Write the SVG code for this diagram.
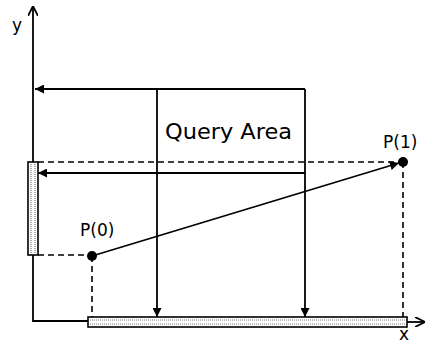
<svg xmlns="http://www.w3.org/2000/svg" width="427" height="347" viewBox="0 0 427 347">
<defs>
<style>
.ln{stroke:#000;stroke-width:1.8;fill:none}
.dash{stroke:#000;stroke-width:1.6;fill:none;stroke-dasharray:6,4}
.bar{fill:#fff;stroke:#000;stroke-width:1.6}
.dots{stroke:#777;stroke-width:1.2;stroke-dasharray:1,1;fill:none}
.t{font-family:"DejaVu Sans","Liberation Sans",Arial,sans-serif;fill:#000}
</style>
<marker id="fa" viewBox="0 0 10 10" refX="10" refY="5" markerWidth="11" markerHeight="9" markerUnits="userSpaceOnUse" orient="auto">
<path d="M0,0 L10,5 L0,10 z" fill="#000"/>
</marker>
<marker id="oa" viewBox="0 0 10 10" refX="10" refY="5" markerWidth="10" markerHeight="10" markerUnits="userSpaceOnUse" orient="auto">
<path d="M0,0 L10,5 L0,10" fill="none" stroke="#000" stroke-width="1.8"/>
</marker>
</defs>
<rect width="427" height="347" fill="#fff"/>
<g id="axes">
<path class="ln" d="M33,320 L33,6" marker-end="url(#oa)"/>
<path class="ln" d="M33,320 L33,321 L88,321"/>
<path class="ln" d="M407,322 L425,322" marker-end="url(#oa)"/>
<text class="t" x="12" y="31" font-size="17">y</text>
<text class="t" x="399" y="340" font-size="17">x</text>
</g>
<g id="y-bar">
<rect class="bar" x="28" y="162" width="10" height="93"/>
<line class="dots" x1="31" y1="164" x2="31" y2="253"/>
<line class="dots" x1="35" y1="164" x2="35" y2="253"/>
</g>
<g id="x-bar">
<rect class="bar" x="88" y="317" width="319" height="10"/>
<line class="dots" x1="90" y1="320" x2="405" y2="320"/>
<line class="dots" x1="90" y1="324" x2="405" y2="324"/>
</g>
<g id="query-area">
<text class="t" x="165" y="139" font-size="22" textLength="127" lengthAdjust="spacingAndGlyphs">Query Area</text>
</g>
<g id="p0">
<circle cx="92" cy="256" r="5" fill="#000"/>
<text class="t" x="80" y="236" font-size="17">P(0)</text>
</g>
<g id="p1">
<circle cx="403" cy="162" r="5" fill="#000"/>
<text class="t" x="383" y="148" font-size="17">P(1)</text>
</g>
<g id="connectors">
<path class="ln" d="M305,89 L35,89" marker-end="url(#fa)"/>
<path class="ln" d="M305,173 L38,173" marker-end="url(#fa)"/>
<path class="ln" d="M157,89 L157,317" marker-end="url(#fa)"/>
<path class="ln" d="M305,89 L305,317" marker-end="url(#fa)"/>
<path class="ln" d="M92,256 L399,163" marker-end="url(#fa)"/>
<path class="dash" d="M38,162 L403,162"/>
<path class="dash" d="M38,255 L92,255"/>
<path class="dash" d="M92,256 L92,317"/>
<path class="dash" d="M403,162 L403,317"/>
</g>
</svg>
